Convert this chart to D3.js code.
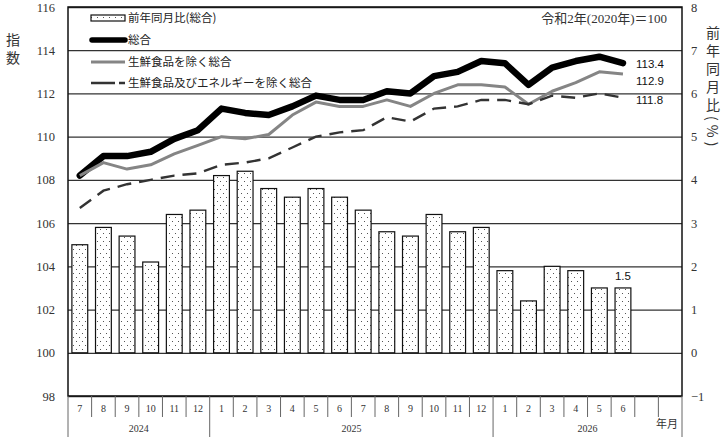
<!DOCTYPE html>
<html>
<head>
<meta charset="utf-8">
<script src="https://cdn.jsdelivr.net/npm/d3@7"></script>
<style>
  html, body { margin: 0; padding: 0; background: #fff; }
  svg { display: block; }
</style>
</head>
<body>
<div id="chart"></div>
<script>
// 月の並び（2024年7月〜2026年8月）
const periods = [
  "2024-07","2024-08","2024-09","2024-10","2024-11","2024-12",
  "2025-01","2025-02","2025-03","2025-04","2025-05","2025-06",
  "2025-07","2025-08","2025-09","2025-10","2025-11","2025-12",
  "2026-01","2026-02","2026-03","2026-04","2026-05","2026-06",
  "2026-07","2026-08"
];
const monthLabels = ["7","8","9","10","11","12","1","2","3","4","5","6","7","8","9","10","11","12","1","2","3","4","5","6","",""];
const yearLabels = ["2024","2025","2026"];

// 前年同月比（総合） %
const yoy = [2.5,2.9,2.7,2.1,3.2,3.3,4.1,4.2,3.8,3.6,3.8,3.6,3.3,2.8,2.7,3.2,2.8,2.9,1.9,1.2,2.0,1.9,1.5,1.5];
// 指数
const sogo = [108.2,109.1,109.1,109.3,109.9,110.3,111.3,111.1,111.0,111.4,111.9,111.7,111.7,112.1,112.0,112.8,113.0,113.5,113.4,112.4,113.2,113.5,113.7,113.4];
const exFresh = [108.2,108.8,108.5,108.7,109.2,109.6,110.0,109.9,110.1,111.0,111.6,111.4,111.4,111.7,111.4,112.0,112.4,112.4,112.3,111.5,112.1,112.5,113.0,112.9];
const exFreshEnergy = [106.7,107.5,107.8,108.0,108.2,108.3,108.7,108.8,109.0,109.5,110.0,110.2,110.3,110.9,110.7,111.3,111.4,111.7,111.7,111.5,111.9,111.8,112.0,111.8];

const leftTicks = [98,100,102,104,106,108,110,112,114,116];
const rightTicks = [-1,0,1,2,3,4,5,6,7,8];

const W = 727, H = 437;
const mLeft = 68, mRight = 682, mTop = 7, mBottom = 396;

const svg = d3.select("#chart").append("svg").attr("width", W).attr("height", H);

const defs = svg.append("defs");
const pat = defs.append("pattern").attr("id", "dots").attr("patternUnits", "userSpaceOnUse")
  .attr("width", 6).attr("height", 8);
pat.append("rect").attr("width", 6).attr("height", 8).attr("fill", "#fff");
pat.append("rect").attr("x", 1).attr("y", 1).attr("width", 1).attr("height", 1).attr("fill", "#555");
pat.append("rect").attr("x", 4).attr("y", 5).attr("width", 1).attr("height", 1).attr("fill", "#555");

const slot = d3.scaleBand().domain(periods).range([mLeft, mRight]).padding(0);
const x = d3.scaleBand().domain(periods).range([mLeft, mRight]).paddingInner(0.33).paddingOuter(0.165);
const yL = d3.scaleLinear().domain([98, 116]).range([mBottom, mTop]);
const yR = d3.scaleLinear().domain([-1, 8]).range([mBottom, mTop]);
const cx = i => slot(periods[i]) + slot.bandwidth() / 2;

const serif = "'Liberation Serif', 'DejaVu Serif', serif";
const jp = "'Noto Sans CJK JP', sans-serif";

// grid
svg.append("g").attr("transform", `translate(${mLeft},0)`)
  .call(d3.axisLeft(yL).tickValues(leftTicks).tickSize(-(mRight - mLeft)).tickFormat(""))
  .call(g => g.select(".domain").remove())
  .call(g => g.selectAll("line").attr("stroke", "#333").attr("stroke-width", 1.3));

// bars
svg.append("g").selectAll("rect").data(yoy).join("rect")
  .attr("x", (d, i) => x(periods[i]))
  .attr("y", d => yR(d))
  .attr("width", x.bandwidth())
  .attr("height", d => yR(0) - yR(d))
  .attr("fill", "url(#dots)")
  .attr("stroke", "#111").attr("stroke-width", 1.2);

// lines
const line = d3.line().x((d, i) => cx(i)).y(d => yL(d));
svg.append("path").datum(sogo).attr("d", line).attr("fill", "none")
  .attr("stroke", "#000").attr("stroke-width", 6.5).attr("stroke-linejoin", "round").attr("stroke-linecap", "round");
svg.append("path").datum(exFresh).attr("d", line).attr("fill", "none")
  .attr("stroke", "#858585").attr("stroke-width", 3).attr("stroke-linejoin", "round");
svg.append("path").datum(exFreshEnergy).attr("d", line).attr("fill", "none")
  .attr("stroke", "#333").attr("stroke-width", 2.4).attr("stroke-dasharray", "14,8");

// frame
svg.append("rect").attr("x", mLeft).attr("y", mTop).attr("width", mRight - mLeft).attr("height", mBottom - mTop)
  .attr("fill", "none").attr("stroke", "#111").attr("stroke-width", 1.5);

// left axis
svg.append("g").attr("transform", `translate(${mLeft - 10},0)`)
  .call(d3.axisLeft(yL).tickValues(leftTicks).tickSize(0))
  .call(g => g.select(".domain").remove())
  .call(g => g.selectAll("text").attr("font-family", serif).attr("font-size", 12.5).attr("fill", "#333"));

// right axis
svg.append("g").attr("transform", `translate(${mRight + 6},0)`)
  .call(d3.axisRight(yR).tickValues(rightTicks).tickSize(0))
  .call(g => g.select(".domain").remove())
  .call(g => g.selectAll("text").attr("font-family", serif).attr("font-size", 12.5).attr("fill", "#333"));

// axis titles
svg.append("text").attr("x", 13).attr("y", 33).text("指数")
  .attr("font-family", jp).attr("font-size", 14).attr("fill", "#333")
  .style("writing-mode", "vertical-rl").style("letter-spacing", "4px");
svg.append("text").attr("x", 713).attr("y", 26).text("前年同月比(%)")
  .attr("font-family", jp).attr("font-size", 14).attr("fill", "#333")
  .style("writing-mode", "vertical-rl").style("letter-spacing", "4px");

// bottom axis: months
svg.append("g").attr("transform", `translate(0,${mBottom})`)
  .call(d3.axisBottom(slot).tickSize(0).tickPadding(9).tickFormat((d, i) => monthLabels[i]))
  .call(g => g.select(".domain").remove())
  .call(g => g.selectAll("text").attr("font-family", serif).attr("font-size", 10).attr("fill", "#333"));

svg.append("g").selectAll("line").data(periods.slice(1)).join("line")
  .attr("x1", d => slot(d)).attr("x2", d => slot(d))
  .attr("y1", mBottom).attr("y2", d => d.endsWith("-01") ? H : 417)
  .attr("stroke", "#666").attr("stroke-width", 1);
svg.append("g").selectAll("line").data([mLeft, mRight]).join("line")
  .attr("x1", d => d).attr("x2", d => d).attr("y1", mBottom).attr("y2", H)
  .attr("stroke", "#666").attr("stroke-width", 1);

// years
svg.append("g").selectAll("text").data(yearLabels).join("text")
  .attr("x", yr => {
    const ps = periods.filter(p => p.startsWith(yr));
    return (slot(ps[0]) + slot(ps[ps.length - 1]) + slot.bandwidth()) / 2;
  })
  .attr("y", 432).attr("text-anchor", "middle")
  .attr("font-family", serif).attr("font-size", 10).attr("fill", "#333").text(d => d);

svg.append("text").attr("x", 678).attr("y", 428).attr("text-anchor", "end")
  .attr("font-family", jp).attr("font-size", 11).attr("fill", "#333").text("年月");

// base note
svg.append("text").attr("x", 667).attr("y", 23).attr("text-anchor", "end")
  .attr("font-family", "'Liberation Serif', 'Noto Sans CJK JP', serif").attr("font-size", 13).attr("fill", "#333")
  .text("令和2年(2020年)＝100");

// end labels
const last = sogo.length - 1;
const endLabel = (txt, yv, dy) => svg.append("text")
  .attr("x", cx(last) + 13).attr("y", yL(yv) + dy)
  .attr("font-family", "'Liberation Sans', Arial, sans-serif").attr("font-size", 11.5).attr("fill", "#111")
  .text(txt);
endLabel(sogo[last].toFixed(1), sogo[last], 4.5);
endLabel(exFresh[last].toFixed(1), exFresh[last], 11);
endLabel(exFreshEnergy[last].toFixed(1), exFreshEnergy[last], 6);
svg.append("text").attr("x", cx(yoy.length - 1)).attr("y", yR(yoy[yoy.length - 1]) - 8)
  .attr("text-anchor", "middle")
  .attr("font-family", "'Liberation Sans', Arial, sans-serif").attr("font-size", 11.5).attr("fill", "#111")
  .text(yoy[yoy.length - 1].toFixed(1));

// legend
const lg = svg.append("g").attr("font-family", jp).attr("font-size", 11.5).attr("fill", "#222");
const lx = 91, lw = 34;
const rows = [18, 40, 62, 83];
lg.append("rect").attr("x", lx).attr("y", rows[0] - 3).attr("width", lw).attr("height", 6)
  .attr("fill", "url(#dots)").attr("stroke", "#111").attr("stroke-width", 1.2);
lg.append("line").attr("x1", lx + 1).attr("x2", lx + lw).attr("y1", rows[1]).attr("y2", rows[1])
  .attr("stroke", "#000").attr("stroke-width", 5.5).attr("stroke-linecap", "round");
lg.append("line").attr("x1", lx).attr("x2", lx + lw).attr("y1", rows[2]).attr("y2", rows[2])
  .attr("stroke", "#858585").attr("stroke-width", 3);
lg.append("line").attr("x1", lx).attr("x2", lx + lw).attr("y1", rows[3]).attr("y2", rows[3])
  .attr("stroke", "#333").attr("stroke-width", 2.4).attr("stroke-dasharray", "24,4,7");
const names = ["前年同月比(総合)", "総合", "生鮮食品を除く総合", "生鮮食品及びエネルギーを除く総合"];
lg.selectAll("text").data(names).join("text")
  .attr("x", lx + lw + 3).attr("y", (d, i) => rows[i] + 4).text(d => d);
</script>
</body>
</html>
